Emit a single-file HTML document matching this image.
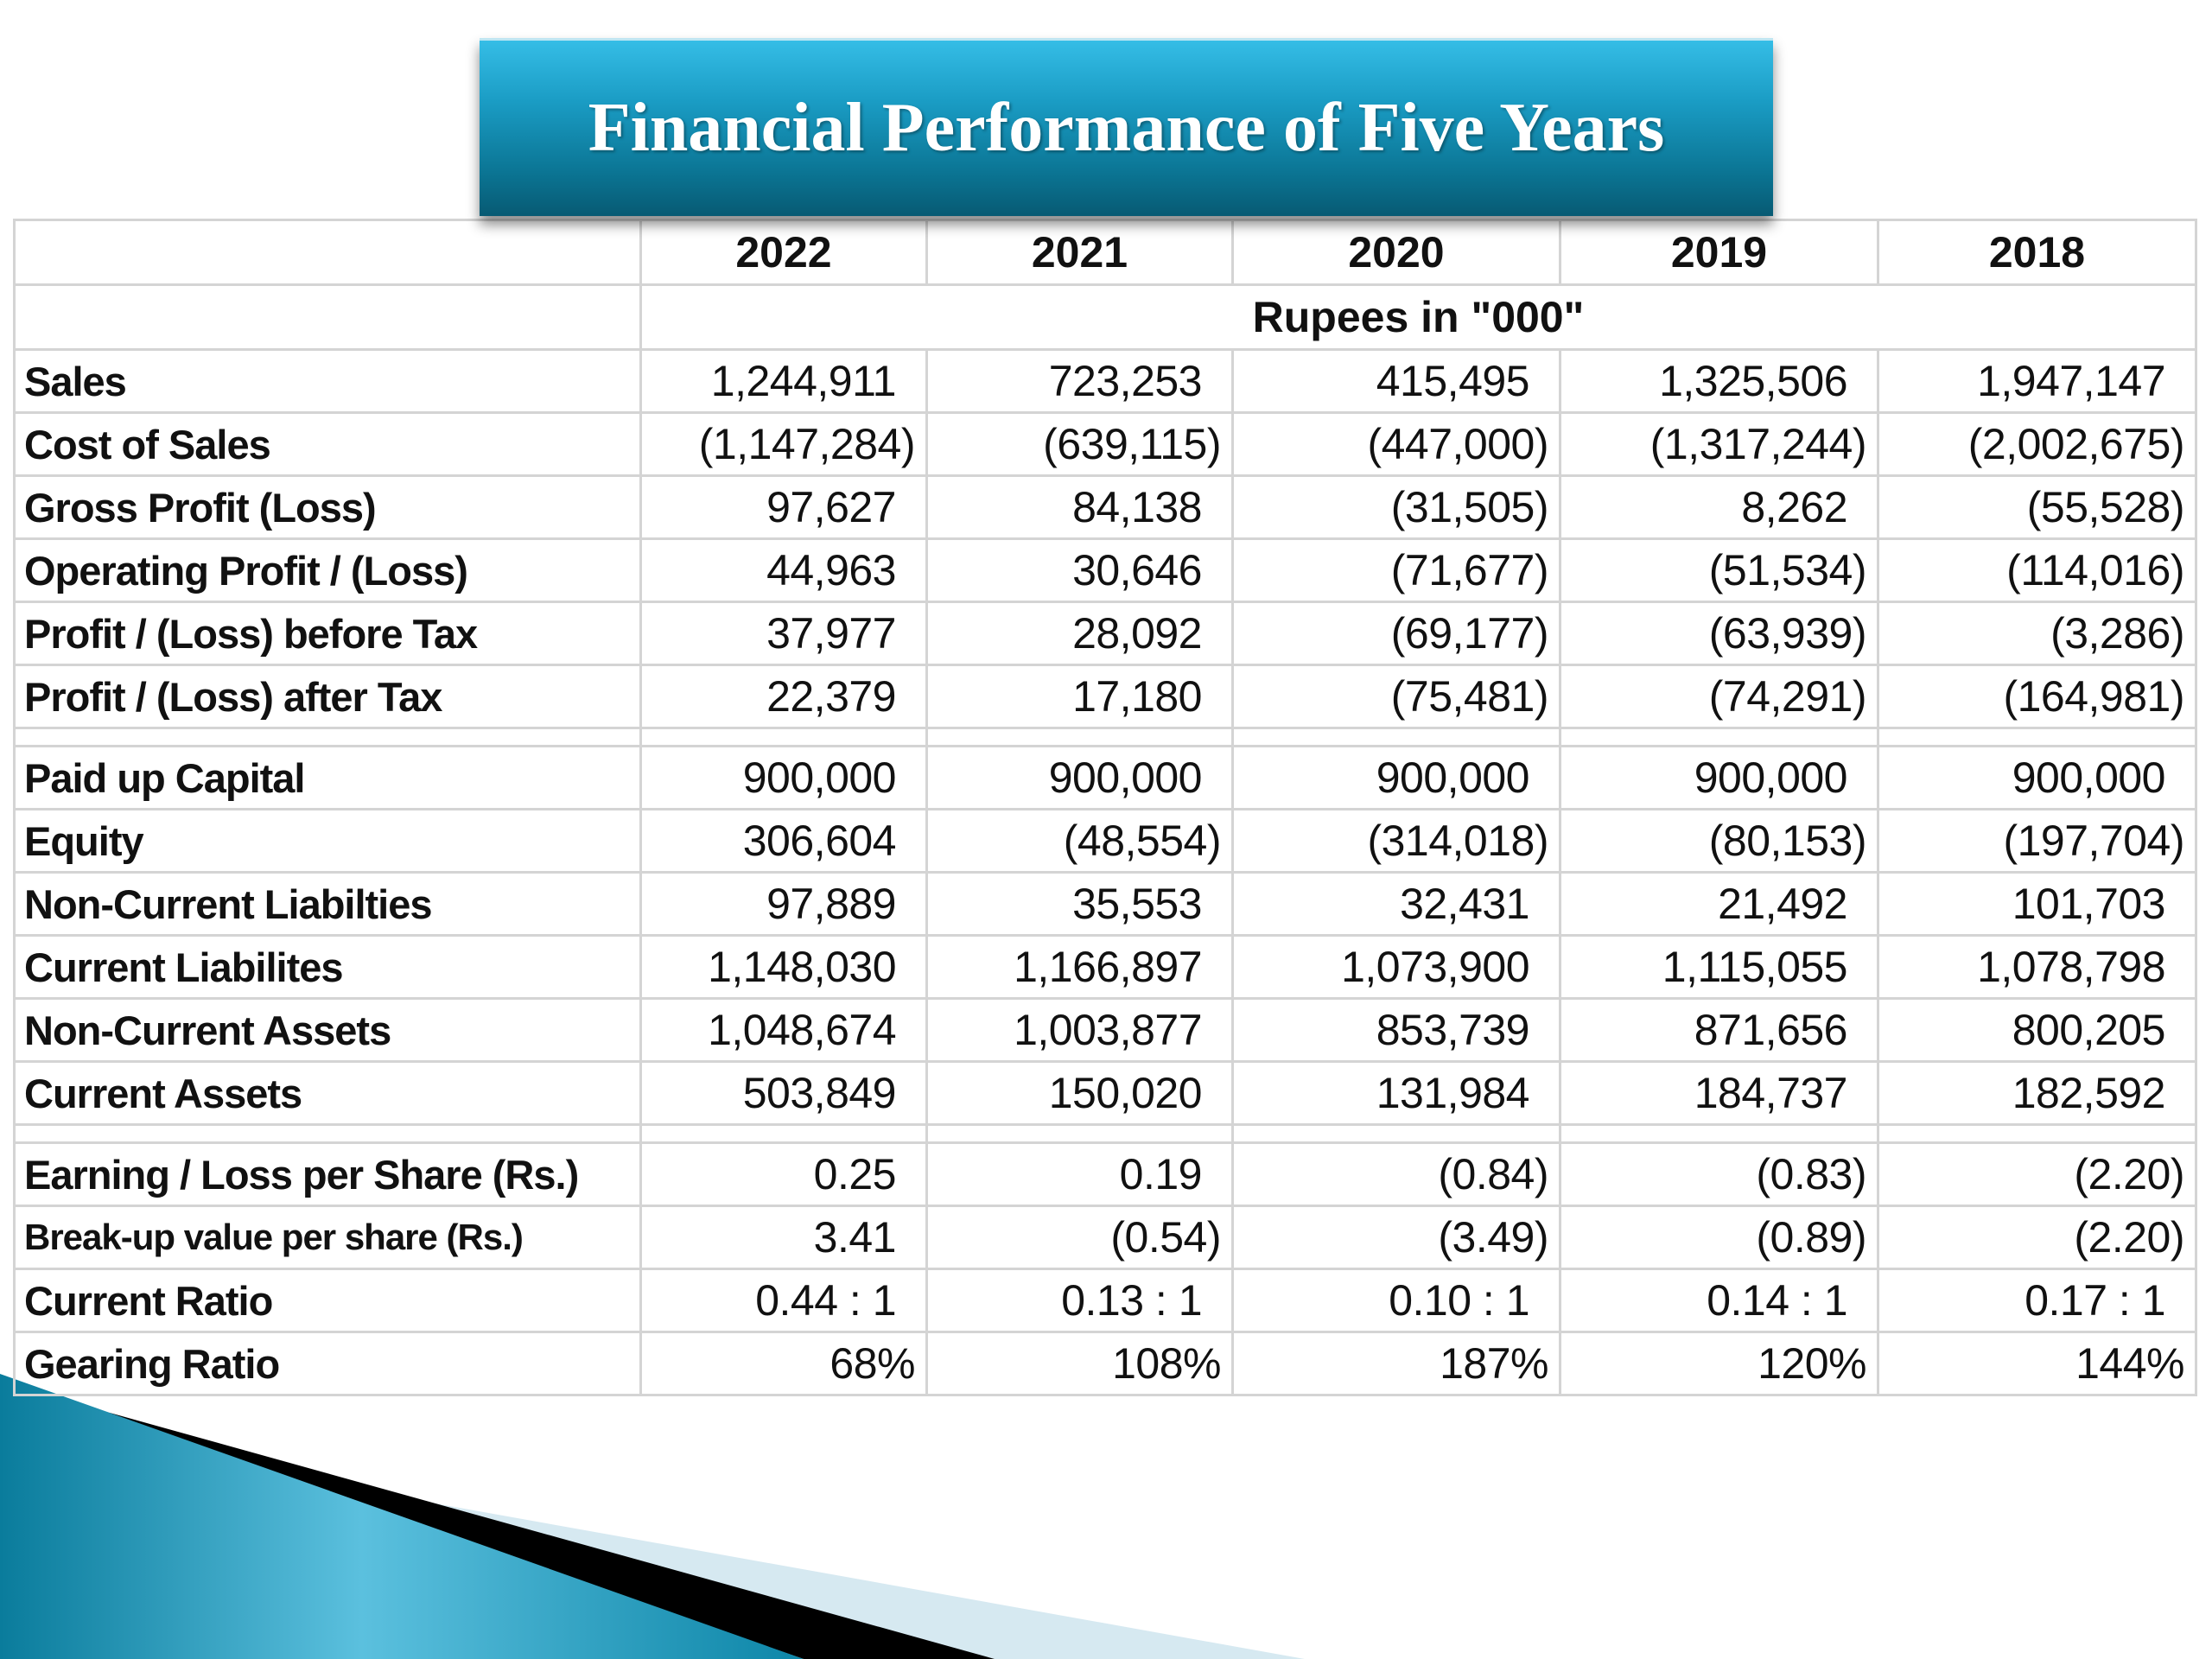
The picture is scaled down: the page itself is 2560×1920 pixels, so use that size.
<!DOCTYPE html>
<html><head><meta charset="utf-8"><style>
body{margin:0;width:2560px;height:1920px;background:#fff;position:relative;overflow:hidden;font-family:"Liberation Sans",sans-serif;}
#title{position:absolute;left:555px;top:44px;width:1497px;height:206px;background:linear-gradient(#35bde6 0%,#1a9cc4 35%,#0b7594 75%,#075a73 100%);box-shadow:0 10px 14px rgba(0,0,0,.45);border-top:3px solid #bfe6f2;box-sizing:border-box;display:flex;align-items:center;justify-content:center;z-index:2}
#title span{font-family:"Liberation Serif",serif;font-weight:bold;color:#fff;font-size:80px;text-shadow:2px 2px 3px rgba(0,0,0,.35)}
table{position:absolute;left:15px;top:253px;border-collapse:collapse;table-layout:fixed;z-index:1}
td{border:3px solid #d4d4d4;padding:0;font-size:50px;color:#111;white-space:nowrap;overflow:hidden}
td.l{font-weight:bold;padding-left:10px;font-size:47px;letter-spacing:-1px}
td.n{text-align:right;padding-right:34px;letter-spacing:-0.5px}
td.p{padding-right:12px}
tr.h td{font-weight:bold;text-align:center}
tr.r td{height:70px}
tr.g td{height:18px}
</style></head><body>
<svg style="position:absolute;left:0;top:0" width="2560" height="1920">
<defs><linearGradient id="tg" x1="0" y1="0" x2="1" y2="0"><stop offset="0" stop-color="#0a7c9c"/><stop offset="0.45" stop-color="#5bc0de"/><stop offset="1" stop-color="#0d86a8"/></linearGradient></defs>
<polygon points="1,1650 1510,1920 1151,1920" fill="#d6e9f1"/>
<polygon points="1,1600 1151,1920 930,1920" fill="#000"/>
<polygon points="0,1590 930,1920 0,1920" fill="url(#tg)"/>
</svg>
<div id="title"><span>Financial Performance of Five Years</span></div>
<table>
<colgroup><col style="width:725px"><col style="width:331px"><col style="width:354px"><col style="width:379px"><col style="width:368px"><col style="width:368px"></colgroup>
<tr class="h" style="height:75px"><td></td><td>2022</td><td>2021</td><td>2020</td><td>2019</td><td>2018</td></tr>
<tr class="h" style="height:75px"><td></td><td colspan="5">Rupees in "000"</td></tr>
<tr class="r"><td class="l">Sales</td><td class="n">1,244,911</td><td class="n">723,253</td><td class="n">415,495</td><td class="n">1,325,506</td><td class="n">1,947,147</td></tr>
<tr class="r"><td class="l">Cost of Sales</td><td class="n p">(1,147,284)</td><td class="n p">(639,115)</td><td class="n p">(447,000)</td><td class="n p">(1,317,244)</td><td class="n p">(2,002,675)</td></tr>
<tr class="r"><td class="l">Gross Profit (Loss)</td><td class="n">97,627</td><td class="n">84,138</td><td class="n p">(31,505)</td><td class="n">8,262</td><td class="n p">(55,528)</td></tr>
<tr class="r"><td class="l">Operating Profit / (Loss)</td><td class="n">44,963</td><td class="n">30,646</td><td class="n p">(71,677)</td><td class="n p">(51,534)</td><td class="n p">(114,016)</td></tr>
<tr class="r"><td class="l">Profit / (Loss) before Tax</td><td class="n">37,977</td><td class="n">28,092</td><td class="n p">(69,177)</td><td class="n p">(63,939)</td><td class="n p">(3,286)</td></tr>
<tr class="r"><td class="l">Profit / (Loss) after Tax</td><td class="n">22,379</td><td class="n">17,180</td><td class="n p">(75,481)</td><td class="n p">(74,291)</td><td class="n p">(164,981)</td></tr>
<tr class="g"><td></td><td></td><td></td><td></td><td></td><td></td></tr>
<tr class="r"><td class="l">Paid up Capital</td><td class="n">900,000</td><td class="n">900,000</td><td class="n">900,000</td><td class="n">900,000</td><td class="n">900,000</td></tr>
<tr class="r"><td class="l">Equity</td><td class="n">306,604</td><td class="n p">(48,554)</td><td class="n p">(314,018)</td><td class="n p">(80,153)</td><td class="n p">(197,704)</td></tr>
<tr class="r"><td class="l">Non-Current Liabilties</td><td class="n">97,889</td><td class="n">35,553</td><td class="n">32,431</td><td class="n">21,492</td><td class="n">101,703</td></tr>
<tr class="r"><td class="l">Current Liabilites</td><td class="n">1,148,030</td><td class="n">1,166,897</td><td class="n">1,073,900</td><td class="n">1,115,055</td><td class="n">1,078,798</td></tr>
<tr class="r"><td class="l">Non-Current Assets</td><td class="n">1,048,674</td><td class="n">1,003,877</td><td class="n">853,739</td><td class="n">871,656</td><td class="n">800,205</td></tr>
<tr class="r"><td class="l">Current Assets</td><td class="n">503,849</td><td class="n">150,020</td><td class="n">131,984</td><td class="n">184,737</td><td class="n">182,592</td></tr>
<tr class="g"><td></td><td></td><td></td><td></td><td></td><td></td></tr>
<tr class="r"><td class="l">Earning / Loss per Share (Rs.)</td><td class="n">0.25</td><td class="n">0.19</td><td class="n p">(0.84)</td><td class="n p">(0.83)</td><td class="n p">(2.20)</td></tr>
<tr class="r"><td class="l" style="font-size:42px">Break-up value per share (Rs.)</td><td class="n">3.41</td><td class="n p">(0.54)</td><td class="n p">(3.49)</td><td class="n p">(0.89)</td><td class="n p">(2.20)</td></tr>
<tr class="r"><td class="l">Current Ratio</td><td class="n">0.44 : 1</td><td class="n">0.13 : 1</td><td class="n">0.10 : 1</td><td class="n">0.14 : 1</td><td class="n">0.17 : 1</td></tr>
<tr class="r"><td class="l">Gearing Ratio</td><td class="n p">68%</td><td class="n p">108%</td><td class="n p">187%</td><td class="n p">120%</td><td class="n p">144%</td></tr>
</table>
</body></html>
